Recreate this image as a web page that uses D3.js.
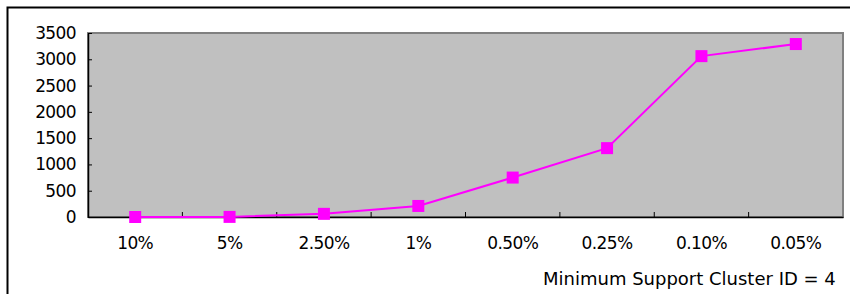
<!DOCTYPE html>
<html>
<head>
<meta charset="utf-8">
<script src="https://cdn.jsdelivr.net/npm/d3@7"></script>
<style>
  body { margin: 0; background: #fff; }
  text { fill: #000; }
</style>
</head>
<body>
<div id="viz-container"></div>
<script>
// chart data
const categories = ['10%', '5%', '2.50%', '1%', '0.50%', '0.25%', '0.10%', '0.05%'];
const values = [0, 2, 60, 210, 750, 1310, 3060, 3290];
const yTicks = [0, 500, 1000, 1500, 2000, 2500, 3000, 3500];

const W = 850, H = 294;
const margin = {top: 33, right: 7, bottom: 77, left: 88};
const width = W - margin.left - margin.right;
const height = H - margin.top - margin.bottom;
const numFont = '"DejaVu Sans", sans-serif';

const root = d3.select('#viz-container')
  .append('svg')
  .attr('width', W)
  .attr('height', H);

// outer frame (only top and left visible)
root.append('path')
  .attr('d', `M7.5,${H} V7.5 H${W}`)
  .attr('fill', 'none')
  .attr('stroke', '#000')
  .attr('stroke-width', 2);

const svg = root.append('g')
  .attr('transform', `translate(${margin.left},${margin.top})`);

const x = d3.scaleBand()
  .domain(categories)
  .range([0, width]);

const y = d3.scaleLinear()
  .domain([0, 3500])
  .range([height, 0]);

// plot area
svg.append('rect')
  .attr('width', width)
  .attr('height', height)
  .attr('fill', '#c0c0c0')
  .attr('stroke', '#808080')
  .attr('stroke-width', 2);

// y axis
const yAxis = svg.append('g')
  .call(d3.axisLeft(y).tickValues(yTicks).tickFormat(d3.format('d'))
    .tickSizeInner(-4).tickSizeOuter(0).tickPadding(12));
yAxis.select('.domain').attr('stroke', '#000').attr('stroke-width', 1.5);
yAxis.selectAll('.tick line').attr('stroke', '#000');
yAxis.selectAll('text')
  .style('font-size', '17px')
  .style('letter-spacing', '-0.6px')
  .style('font-family', numFont);

// x axis
const xAxis = svg.append('g')
  .attr('transform', `translate(0,${height})`)
  .call(d3.axisBottom(x).tickSize(0).tickPadding(20));
xAxis.select('.domain').attr('stroke', '#000').attr('stroke-width', 1.5);
xAxis.selectAll('text')
  .style('font-size', '17px')
  .style('letter-spacing', '-0.6px')
  .style('font-family', numFont);

// category separators, pointing inward
svg.append('g')
  .selectAll('line')
  .data(categories.slice(1))
  .join('line')
  .attr('x1', d => x(d))
  .attr('x2', d => x(d))
  .attr('y1', height)
  .attr('y2', height - 5)
  .attr('stroke', '#000');

// series line
const line = d3.line()
  .x((d, i) => x(categories[i]) + x.bandwidth() / 2)
  .y(d => y(d));

svg.append('path')
  .datum(values)
  .attr('d', line)
  .attr('fill', 'none')
  .attr('stroke', '#ff00ff')
  .attr('stroke-width', 2);

svg.selectAll('.marker')
  .data(values)
  .join('rect')
  .attr('class', 'marker')
  .attr('x', (d, i) => x(categories[i]) + x.bandwidth() / 2 - 6)
  .attr('y', d => y(d) - 6)
  .attr('width', 12)
  .attr('height', 12)
  .attr('fill', '#ff00ff');

// axis title
root.append('text')
  .attr('x', 543)
  .attr('y', 285)
  .style('font-family', numFont)
  .style('font-size', '18px')
  .text('Minimum Support Cluster ID = 4');
</script>
</body>
</html>
